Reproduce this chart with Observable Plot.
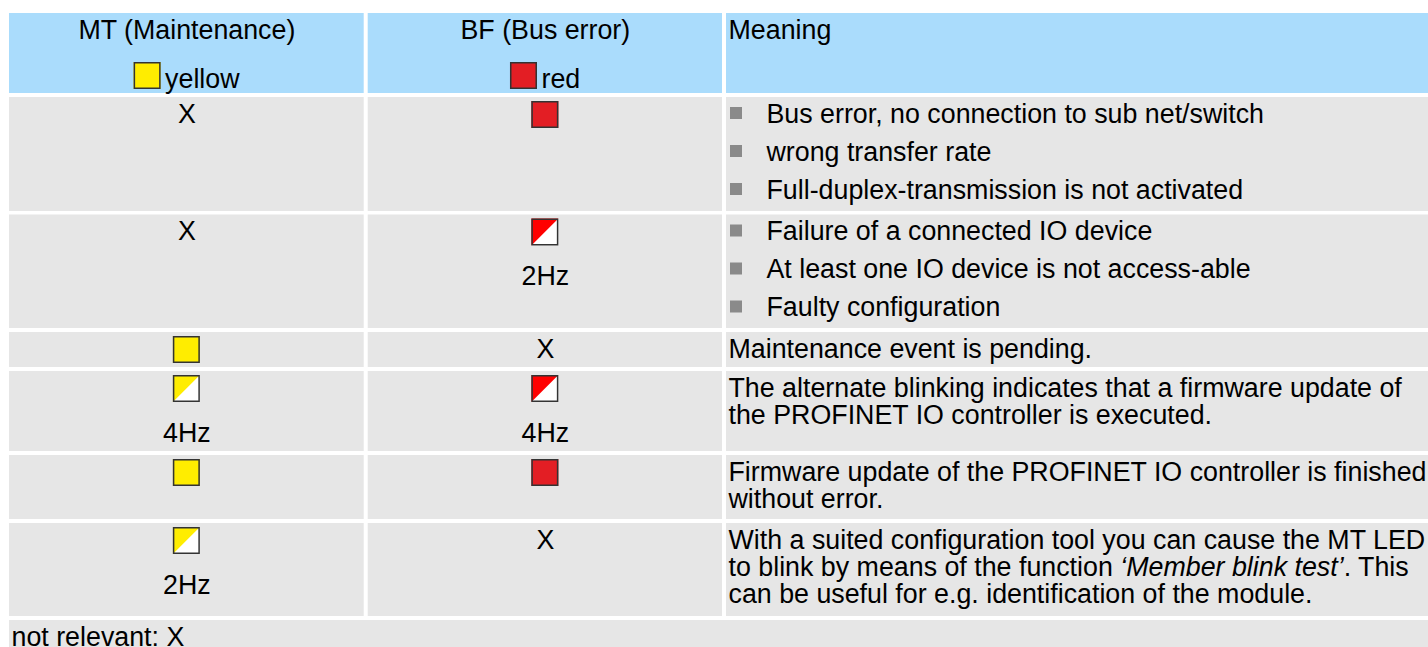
<!DOCTYPE html>
<html>
<head>
<meta charset="utf-8">
<script src="https://cdn.jsdelivr.net/npm/d3@7"></script>
<script src="https://cdn.jsdelivr.net/npm/@observablehq/plot@0.6"></script>
<style>
  html, body { margin: 0; padding: 0; background: #fff; }
</style>
</head>
<body>
<div id="chart"></div>
<script>
// ---------- DATA ----------
const headers = ["MT (Maintenance)", "BF (Bus error)", "Meaning"];
const legendLabels = ["yellow", "red"];
const ledColors = ["#ffed00", "#e31e24"];
const blinkColors = ["#ffed00", "#ff0000"];

// LED state per row: "on" = lit, "blink" = blinking, "X" = not relevant
const mtState = ["X", "X", "on", "blink", "on", "blink"];
const mtFreq  = ["", "", "", "4Hz", "", "2Hz"];
const bfState = ["on", "blink", "X", "blink", "on", "X"];
const bfFreq  = ["", "2Hz", "", "4Hz", "", ""];

const meaningKind = ["list", "list", "text", "text", "text", "text"];
const meaningLines = [
  ["Bus error, no connection to sub net/switch", "wrong transfer rate", "Full-duplex-transmission is not activated"],
  ["Failure of a connected IO device", "At least one IO device is not access-able", "Faulty configuration"],
  ["Maintenance event is pending."],
  ["The alternate blinking indicates that a firmware update of", "the PROFINET IO controller is executed."],
  ["Firmware update of the PROFINET IO controller is finished", "without error."],
  ["With a suited configuration tool you can cause the MT LED", "to blink by means of the function \u2018Member blink test\u2019. This", "can be useful for e.g. identification of the module."]
];
const italicPhrase = "\u2018Member blink test\u2019";
const footnote = "not relevant: X";

// ---------- LAYOUT ----------
const W = 1428, H = 647;
const FONT = "'Liberation Sans', Arial, Helvetica, sans-serif";
const FS = 26.8;
const colEdges = [[9, 363.7], [367.7, 722], [726, 1428]];
const headerBand = [13, 93];
const rowBands = [[97, 211], [214.5, 328], [332, 367], [371, 451], [455, 519], [523, 616]];
const footBand = [620, 670];
const LED = 27;
const firstBase = 25, secondBase = 70, listStep = 38, paraStep = 27;

const ctx = document.createElement("canvas").getContext("2d");
ctx.font = `${FS}px ${FONT}`;
const tw = s => ctx.measureText(s).width;

const colCenter = c => (colEdges[c][0] + colEdges[c][1]) / 2;

// backgrounds
const bgRects = [];
headers.forEach((h, c) => bgRects.push({x1: colEdges[c][0], x2: colEdges[c][1], y1: headerBand[0], y2: headerBand[1], fill: "#aadcfc"}));
rowBands.forEach(r => colEdges.forEach(ce => bgRects.push({x1: ce[0], x2: ce[1], y1: r[0], y2: r[1], fill: "#e6e6e6"})));
bgRects.push({x1: colEdges[0][0], x2: W, y1: footBand[0], y2: footBand[1], fill: "#e6e6e6"});

// texts
const texts = [];
headers.forEach((h, c) => texts.push({x: c < 2 ? colCenter(c) : colEdges[2][0] + 2, y: headerBand[0] + 25.5, text: h, anchor: c < 2 ? "middle" : "start"}));

// LEDs
const leds = [];
legendLabels.forEach((lab, c) => {
  const gw = LED + 4 + tw(lab);
  const x0 = colCenter(c) - gw / 2;
  leds.push({x1: x0, x2: x0 + LED, y1: headerBand[1] - 4 - LED, y2: headerBand[1] - 4, kind: "on", color: ledColors[c], id: "h" + c});
  texts.push({x: x0 + LED + 4, y: headerBand[1] - 6, text: lab, anchor: "start"});
});

const states = [mtState, bfState], freqs = [mtFreq, bfFreq];
rowBands.forEach((r, i) => {
  [0, 1].forEach(c => {
    const st = states[c][i];
    const cx = colCenter(c);
    if (st === "X") {
      texts.push({x: cx, y: r[0] + firstBase, text: "X", anchor: "middle"});
    } else {
      leds.push({x1: cx - LED / 2, x2: cx + LED / 2, y1: r[0] + 4, y2: r[0] + 4 + LED, kind: st, color: st === "on" ? ledColors[c] : blinkColors[c], id: `r${i}c${c}`});
    }
    if (freqs[c][i]) texts.push({x: cx, y: r[0] + secondBase, text: freqs[c][i], anchor: "middle"});
  });
});

// meaning column
const bullets = [];
rowBands.forEach((r, i) => {
  meaningLines[i].forEach((line, j) => {
    if (meaningKind[i] === "list") {
      const base = r[0] + firstBase + j * listStep;
      bullets.push({x1: colEdges[2][0] + 4, x2: colEdges[2][0] + 16, y1: base - 15, y2: base - 3});
      texts.push({x: colEdges[2][0] + 40, y: base, text: line, anchor: "start"});
    } else {
      texts.push({x: colEdges[2][0] + 2, y: r[0] + firstBase + j * paraStep, text: line, anchor: "start"});
    }
  });
});
texts.push({x: colEdges[0][0] + 2, y: footBand[0] + 25, text: footnote, anchor: "start"});

// triangles for blinking LEDs (upper-left half coloured)
const tri = [];
leds.filter(d => d.kind === "blink").forEach(d => {
  tri.push({id: d.id, x: d.x1, y1: d.y1, y2: d.y2, color: d.color});
  tri.push({id: d.id, x: d.x2, y1: d.y1, y2: d.y1, color: d.color});
});

const textOpts = {x: "x", y: "y", text: "text", lineAnchor: "bottom", fontSize: FS, fill: "#000"};
const plot = Plot.plot({
  width: W, height: H, margin: 0,
  x: {domain: [0, W], range: [0, W], axis: null},
  y: {domain: [0, H], range: [0, H], axis: null},
  style: {fontFamily: FONT, background: "#fff", color: "#000", overflow: "hidden"},
  marks: [
    Plot.rect(bgRects, {x1: "x1", x2: "x2", y1: "y1", y2: "y2", fill: d => d.fill}),
    Plot.rect(bullets, {x1: "x1", x2: "x2", y1: "y1", y2: "y2", fill: "#8a8a8a"}),
    Plot.rect(leds, {x1: "x1", x2: "x2", y1: "y1", y2: "y2", fill: d => d.kind === "on" ? d.color : "#fff"}),
    Plot.areaY(tri, {x: "x", y1: "y1", y2: "y2", z: "id", fill: d => d.color, curve: "linear"}),
    Plot.rect(leds, {x1: d => d.x1 + 0.75, x2: d => d.x2 - 0.75, y1: d => d.y1 + 0.75, y2: d => d.y2 - 0.75, fill: "none", stroke: "#333", strokeWidth: 1.5}),
    Plot.text(texts.filter(d => d.anchor === "middle"), {...textOpts, textAnchor: "middle"}),
    Plot.text(texts.filter(d => d.anchor === "start"), {...textOpts, textAnchor: "start"})
  ]
});
document.getElementById("chart").append(plot);

// italic phrase inside the running text
d3.select(plot).selectAll("text").each(function() {
  const s = this.textContent;
  const k = s.indexOf(italicPhrase);
  if (k < 0 || this.querySelector("tspan")) return;
  const parts = [[s.slice(0, k), "normal"], [italicPhrase, "italic"], [s.slice(k + italicPhrase.length), "normal"]];
  this.textContent = "";
  parts.forEach(([t, st]) => {
    const ts = document.createElementNS("http://www.w3.org/2000/svg", "tspan");
    ts.setAttribute("font-style", st);
    ts.textContent = t;
    this.appendChild(ts);
  });
});
</script>
</body>
</html>
